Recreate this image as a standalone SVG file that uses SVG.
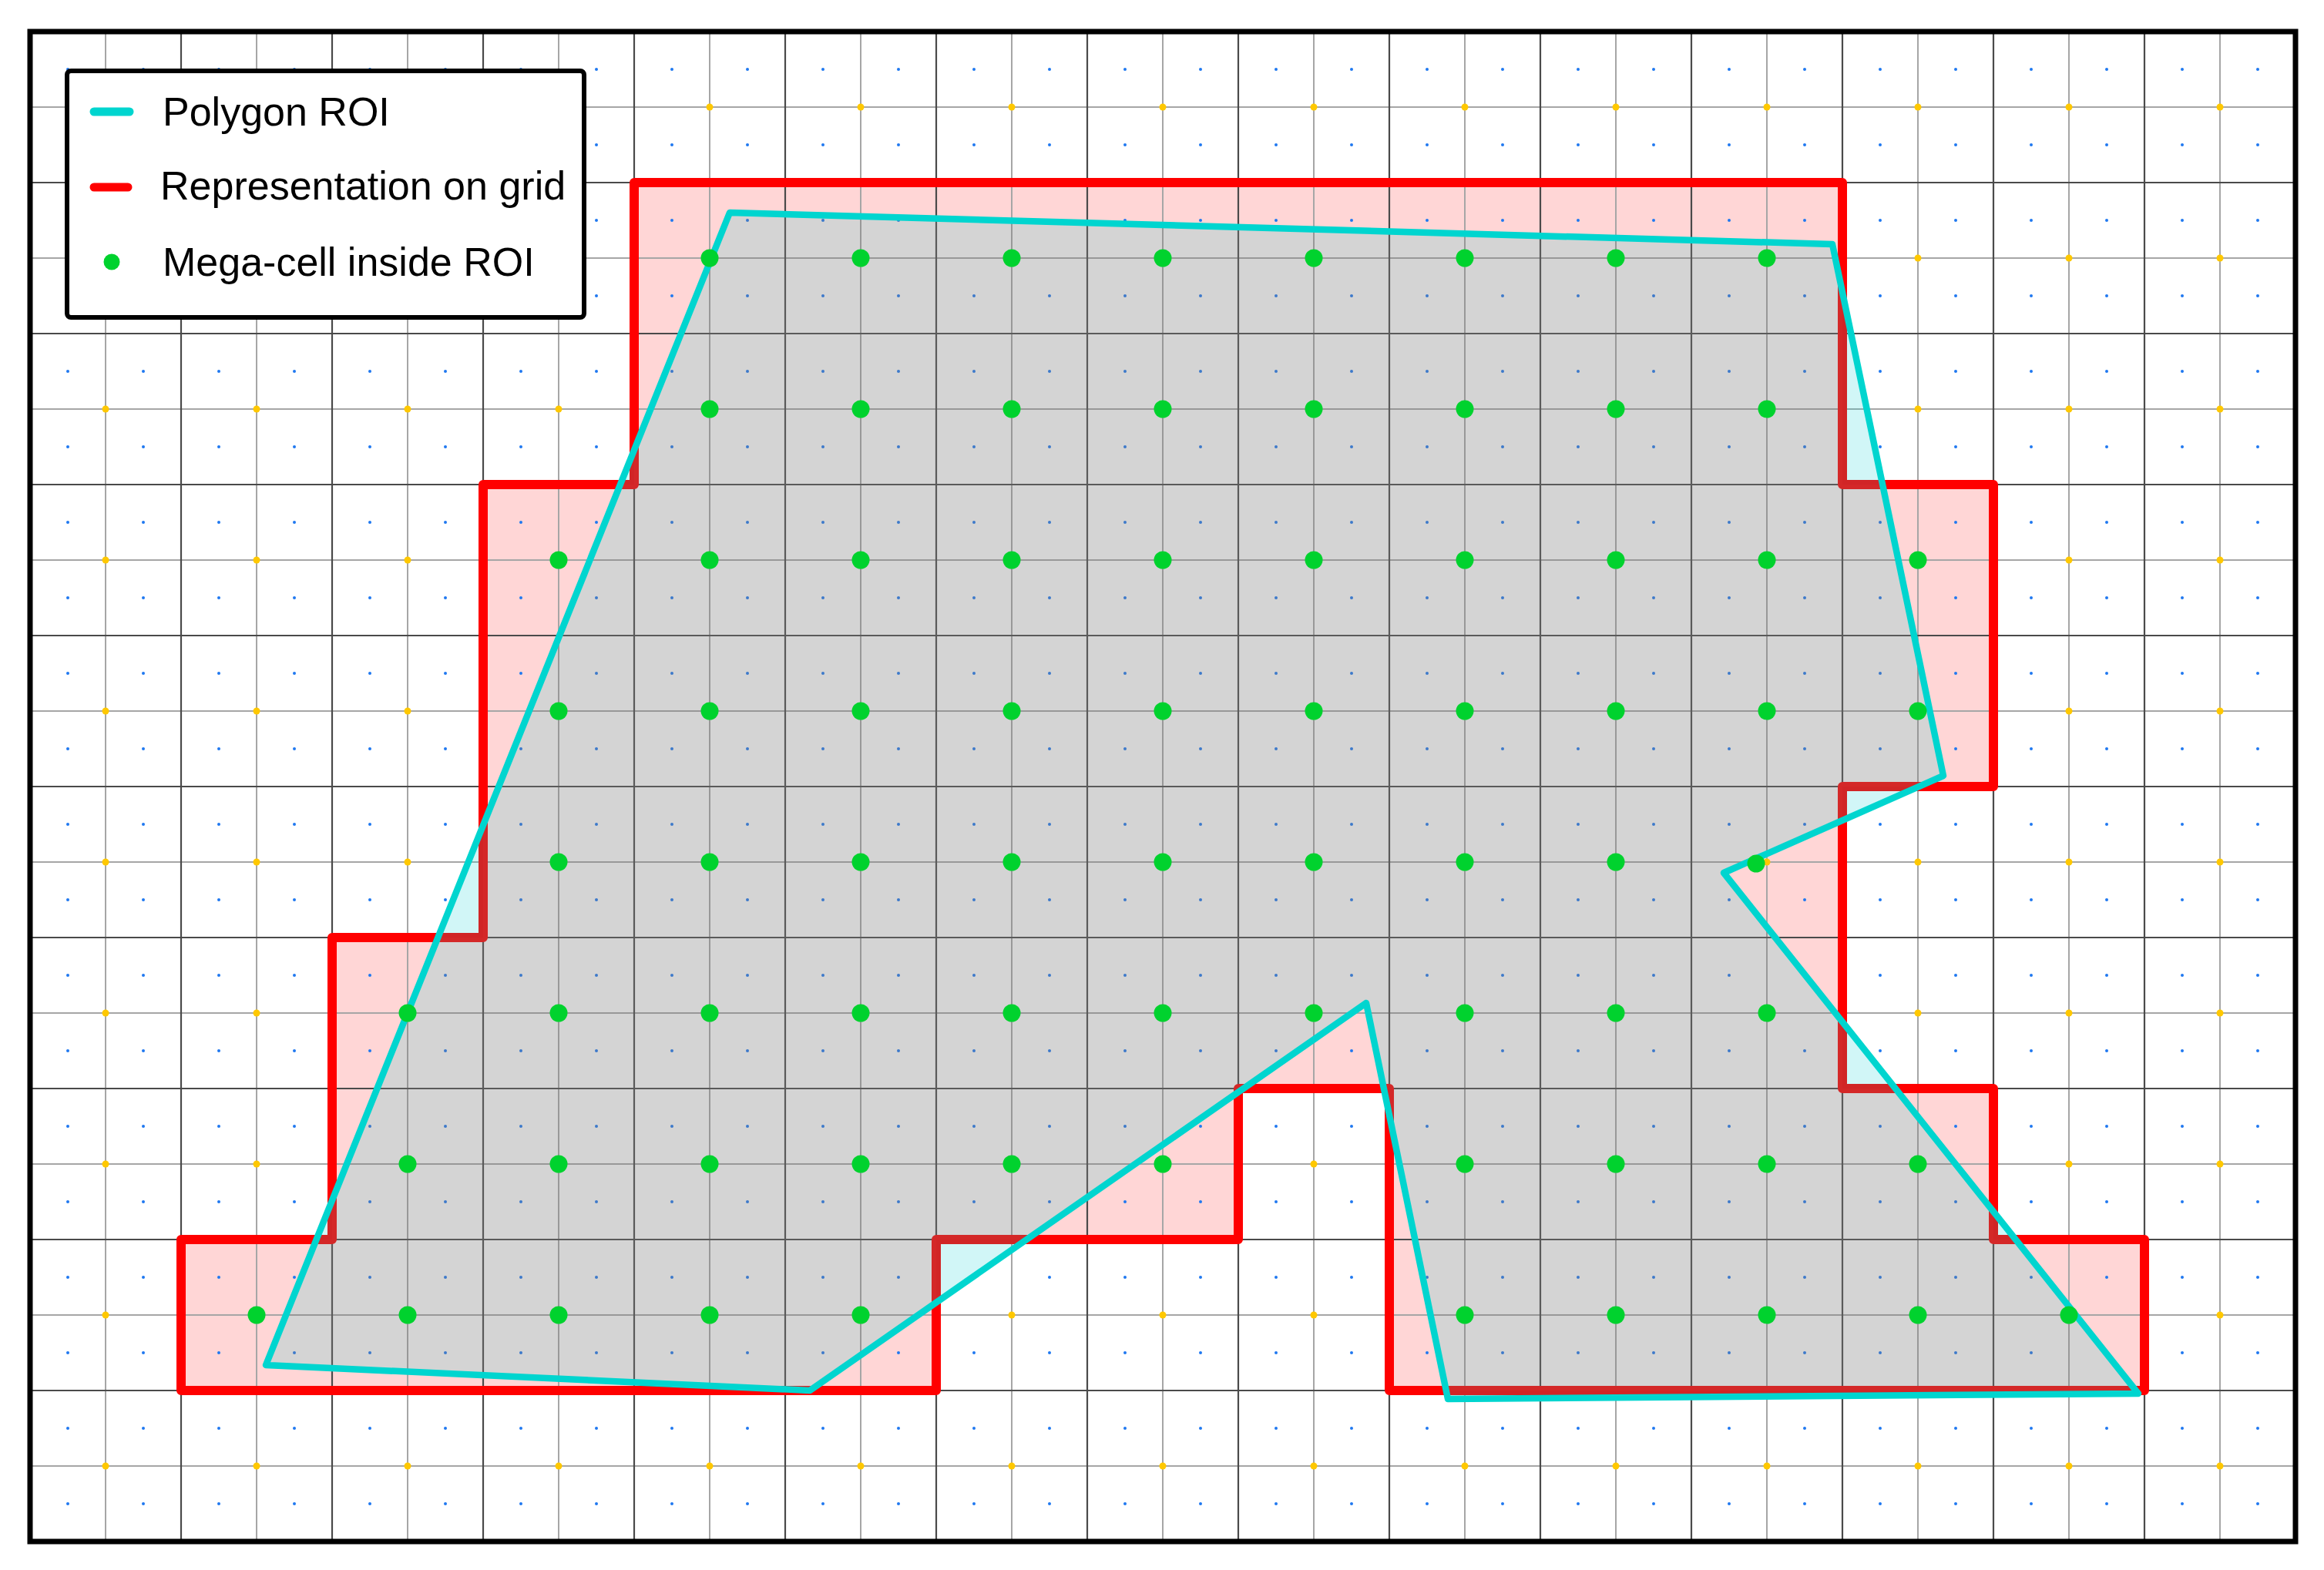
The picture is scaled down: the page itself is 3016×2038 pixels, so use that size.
<svg xmlns="http://www.w3.org/2000/svg" width="3016" height="2038" viewBox="0 0 3016 2038">
<style>
.lt{stroke:#a6a6a6;stroke-width:2;fill:none}
.dk{stroke:#4a4a4a;stroke-width:2.2;fill:none}
.g{fill:#00d22e}
.lbl{font-family:"Liberation Sans",Arial,sans-serif;font-size:52px;fill:#000}
</style>
<defs>
<path id="rep" d="M823,237 H2391 V629 H2587 V1021 H2391 V1413 H2587 V1609 H2783 V1805 H1803 V1413 H1607 V1609 H1215 V1805 H235 V1609 H431 V1217 H627 V629 H823 Z"/>
<path id="poly" d="M947,276 L2378,317 L2522,1007 L2237,1133 L2775,1809 L1879,1816 L1773,1302 L1051,1805 L345,1772 Z"/>
<clipPath id="inRep"><use href="#rep"/></clipPath>
<clipPath id="outRep"><path clip-rule="evenodd" d="M0,0 H3016 V2038 H0 Z M823,237 H2391 V629 H2587 V1021 H2391 V1413 H2587 V1609 H2783 V1805 H1803 V1413 H1607 V1609 H1215 V1805 H235 V1609 H431 V1217 H627 V629 H823 Z"/></clipPath>
<pattern id="blue" patternUnits="userSpaceOnUse" x="39" y="41" width="98" height="98"><circle cx="49" cy="49" r="2" fill="#1f78f0"/></pattern>
<pattern id="yellow" patternUnits="userSpaceOnUse" x="39" y="41" width="196" height="196"><circle cx="98" cy="98" r="4.5" fill="#ffc800"/></pattern>
</defs>
<rect width="3016" height="2038" fill="#fff"/>
<g id="fills">
<use href="#rep" fill="#ffd6d6"/>
<use href="#poly" fill="#fff"/>
</g>
<g id="grid">
<path class="lt" d="M137,41V2001M333,41V2001M529,41V2001M725,41V2001M921,41V2001M1117,41V2001M1313,41V2001M1509,41V2001M1705,41V2001M1901,41V2001M2097,41V2001M2293,41V2001M2489,41V2001M2685,41V2001M2881,41V2001M39,139H2979M39,335H2979M39,531H2979M39,727H2979M39,923H2979M39,1119H2979M39,1315H2979M39,1511H2979M39,1707H2979M39,1903H2979"/>
<path class="dk" d="M235,41V2001M431,41V2001M627,41V2001M823,41V2001M1019,41V2001M1215,41V2001M1411,41V2001M1607,41V2001M1803,41V2001M1999,41V2001M2195,41V2001M2391,41V2001M2587,41V2001M2783,41V2001M39,237H2979M39,433H2979M39,629H2979M39,825H2979M39,1021H2979M39,1217H2979M39,1413H2979M39,1609H2979M39,1805H2979"/>
<rect x="39" y="41" width="2940" height="1960" fill="url(#blue)"/>
<rect x="39" y="41" width="2940" height="1960" fill="url(#yellow)"/>
</g>
<g id="representation">
<use href="#rep" fill="none" stroke="#ff0000" stroke-width="12" stroke-linejoin="round"/>
</g>
<g id="roi-fill">
<use href="#poly" fill="#7b7b7b" fill-opacity="0.325" clip-path="url(#inRep)"/>
<use href="#poly" fill="#00cfd0" fill-opacity="0.18" clip-path="url(#outRep)"/>
</g>
<g id="roi">
<use href="#poly" fill="none" stroke="#00d5cf" stroke-width="8.5" stroke-linejoin="round"/>
</g>
<g id="megacells">
<circle class="g" cx="921" cy="335" r="11.5"/><circle class="g" cx="1117" cy="335" r="11.5"/><circle class="g" cx="1313" cy="335" r="11.5"/><circle class="g" cx="1509" cy="335" r="11.5"/><circle class="g" cx="1705" cy="335" r="11.5"/><circle class="g" cx="1901" cy="335" r="11.5"/><circle class="g" cx="2097" cy="335" r="11.5"/><circle class="g" cx="2293" cy="335" r="11.5"/>
<circle class="g" cx="921" cy="531" r="11.5"/><circle class="g" cx="1117" cy="531" r="11.5"/><circle class="g" cx="1313" cy="531" r="11.5"/><circle class="g" cx="1509" cy="531" r="11.5"/><circle class="g" cx="1705" cy="531" r="11.5"/><circle class="g" cx="1901" cy="531" r="11.5"/><circle class="g" cx="2097" cy="531" r="11.5"/><circle class="g" cx="2293" cy="531" r="11.5"/>
<circle class="g" cx="725" cy="727" r="11.5"/><circle class="g" cx="921" cy="727" r="11.5"/><circle class="g" cx="1117" cy="727" r="11.5"/><circle class="g" cx="1313" cy="727" r="11.5"/><circle class="g" cx="1509" cy="727" r="11.5"/><circle class="g" cx="1705" cy="727" r="11.5"/><circle class="g" cx="1901" cy="727" r="11.5"/><circle class="g" cx="2097" cy="727" r="11.5"/><circle class="g" cx="2293" cy="727" r="11.5"/><circle class="g" cx="2489" cy="727" r="11.5"/>
<circle class="g" cx="725" cy="923" r="11.5"/><circle class="g" cx="921" cy="923" r="11.5"/><circle class="g" cx="1117" cy="923" r="11.5"/><circle class="g" cx="1313" cy="923" r="11.5"/><circle class="g" cx="1509" cy="923" r="11.5"/><circle class="g" cx="1705" cy="923" r="11.5"/><circle class="g" cx="1901" cy="923" r="11.5"/><circle class="g" cx="2097" cy="923" r="11.5"/><circle class="g" cx="2293" cy="923" r="11.5"/><circle class="g" cx="2489" cy="923" r="11.5"/>
<circle class="g" cx="725" cy="1119" r="11.5"/><circle class="g" cx="921" cy="1119" r="11.5"/><circle class="g" cx="1117" cy="1119" r="11.5"/><circle class="g" cx="1313" cy="1119" r="11.5"/><circle class="g" cx="1509" cy="1119" r="11.5"/><circle class="g" cx="1705" cy="1119" r="11.5"/><circle class="g" cx="1901" cy="1119" r="11.5"/><circle class="g" cx="2097" cy="1119" r="11.5"/><circle class="g" cx="2279" cy="1121" r="11.5"/>
<circle class="g" cx="529" cy="1315" r="11.5"/><circle class="g" cx="725" cy="1315" r="11.5"/><circle class="g" cx="921" cy="1315" r="11.5"/><circle class="g" cx="1117" cy="1315" r="11.5"/><circle class="g" cx="1313" cy="1315" r="11.5"/><circle class="g" cx="1509" cy="1315" r="11.5"/><circle class="g" cx="1705" cy="1315" r="11.5"/><circle class="g" cx="1901" cy="1315" r="11.5"/><circle class="g" cx="2097" cy="1315" r="11.5"/><circle class="g" cx="2293" cy="1315" r="11.5"/>
<circle class="g" cx="529" cy="1511" r="11.5"/><circle class="g" cx="725" cy="1511" r="11.5"/><circle class="g" cx="921" cy="1511" r="11.5"/><circle class="g" cx="1117" cy="1511" r="11.5"/><circle class="g" cx="1313" cy="1511" r="11.5"/><circle class="g" cx="1509" cy="1511" r="11.5"/><circle class="g" cx="1901" cy="1511" r="11.5"/><circle class="g" cx="2097" cy="1511" r="11.5"/><circle class="g" cx="2293" cy="1511" r="11.5"/><circle class="g" cx="2489" cy="1511" r="11.5"/>
<circle class="g" cx="333" cy="1707" r="11.5"/><circle class="g" cx="529" cy="1707" r="11.5"/><circle class="g" cx="725" cy="1707" r="11.5"/><circle class="g" cx="921" cy="1707" r="11.5"/><circle class="g" cx="1117" cy="1707" r="11.5"/><circle class="g" cx="1901" cy="1707" r="11.5"/><circle class="g" cx="2097" cy="1707" r="11.5"/><circle class="g" cx="2293" cy="1707" r="11.5"/><circle class="g" cx="2489" cy="1707" r="11.5"/><circle class="g" cx="2685" cy="1707" r="11.5"/>
</g>
<rect id="frame" x="39" y="41" width="2940" height="1960" fill="none" stroke="#000" stroke-width="7"/>
<g id="legend">
<rect x="87" y="92" width="671" height="320" rx="5" fill="#fff" stroke="#000" stroke-width="6"/>
<line x1="122" y1="145" x2="168" y2="145" stroke="#00d5cf" stroke-width="11" stroke-linecap="round"/>
<text class="lbl" x="211" y="163">Polygon ROI</text>
<line x1="122" y1="243" x2="166" y2="243" stroke="#ff0000" stroke-width="11" stroke-linecap="round"/>
<text class="lbl" x="208" y="259">Representation on grid</text>
<circle class="g" cx="145" cy="340" r="10.5"/>
<text class="lbl" x="211" y="358">Mega-cell inside ROI</text>
</g>
</svg>
